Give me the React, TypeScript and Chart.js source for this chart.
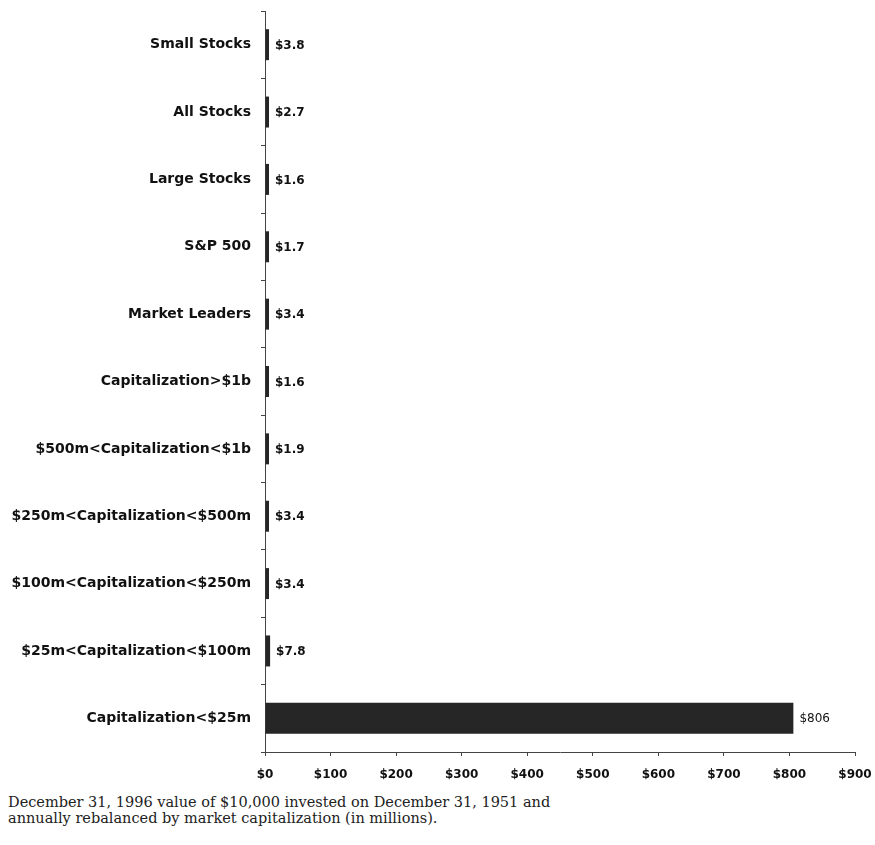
import { useEffect, useRef } from 'react';
import { Chart, registerables } from 'chart.js';

Chart.register(...registerables);

const categories = [
  'Small Stocks',
  'All Stocks',
  'Large Stocks',
  'S&P 500',
  'Market Leaders',
  'Capitalization>$1b',
  '$500m<Capitalization<$1b',
  '$250m<Capitalization<$500m',
  '$100m<Capitalization<$250m',
  '$25m<Capitalization<$100m',
  'Capitalization<$25m',
];
const values = [3.8, 2.7, 1.6, 1.7, 3.4, 1.6, 1.9, 3.4, 3.4, 7.8, 806];
const valueLabels = ['$3.8', '$2.7', '$1.6', '$1.7', '$3.4', '$1.6', '$1.9', '$3.4', '$3.4', '$7.8', '$806'];
const xMax = 900;
const xStep = 100;

const FONT = '"DejaVu Sans", Verdana, sans-serif';

// draws the value next to every bar
const barLabels = {
  id: 'barLabels',
  afterDatasetsDraw(chart: Chart) {
    const ctx = chart.ctx;
    const meta = chart.getDatasetMeta(0);
    ctx.save();
    ctx.fillStyle = '#111';
    ctx.textBaseline = 'middle';
    ctx.textAlign = 'left';
    meta.data.forEach((bar: any, i: number) => {
      ctx.font = (values[i] > 100 ? 'normal 12px ' : 'bold 12px ') + FONT;
      ctx.fillText(valueLabels[i], bar.x + 6, bar.y + 1);
    });
    ctx.restore();
  },
};

export default function App() {
  const chartRef = useRef<HTMLCanvasElement>(null);
  const chartInstance = useRef<Chart | null>(null);

  useEffect(() => {
    if (!chartRef.current) return;
    if (chartInstance.current) chartInstance.current.destroy();
    const ctx = chartRef.current.getContext('2d');
    if (!ctx) return;

    chartInstance.current = new Chart(ctx, {
      type: 'bar',
      data: {
        labels: categories,
        datasets: [
          {
            data: values,
            backgroundColor: '#262626',
            borderWidth: 0,
            barPercentage: 0.46,
            categoryPercentage: 1,
            minBarLength: 4,
          },
        ],
      },
      options: {
        indexAxis: 'y',
        responsive: false,
        maintainAspectRatio: false,
        animation: false,
        layout: { padding: { top: 11, right: 20, left: 0, bottom: 0 } },
        plugins: {
          legend: { display: false },
          tooltip: { enabled: false },
        },
        scales: {
          x: {
            min: 0,
            max: xMax,
            ticks: {
              stepSize: xStep,
              color: '#111',
              font: { family: FONT, size: 12, weight: 'bold' },
              padding: 12,
              callback: (v: any) => '$' + v,
            },
            grid: {
              drawOnChartArea: false,
              color: '#444',
              tickLength: 4,
            },
            border: { color: '#444', width: 1 },
            afterFit: (scale: any) => {
              scale.height = 38;
              scale.paddingLeft = 0;
              scale.paddingRight = 0;
            },
          },
          y: {
            ticks: {
              color: '#111',
              font: { family: FONT, size: 14, weight: 'bold' },
              padding: 10,
            },
            grid: {
              drawOnChartArea: false,
              color: '#444',
              tickLength: 4,
              offset: true,
            },
            border: { color: '#444', width: 1 },
            afterFit: (scale: any) => {
              scale.width = 265;
              scale.paddingTop = 0;
              scale.paddingBottom = 0;
            },
          },
        },
      },
      plugins: [barLabels],
    });

    return () => {
      if (chartInstance.current) {
        chartInstance.current.destroy();
        chartInstance.current = null;
      }
    };
  }, []);

  return (
    <div
      style={{
        position: 'absolute',
        left: 0,
        top: 0,
        width: 875,
        height: 845,
        background: '#fff',
      }}
    >
      <canvas ref={chartRef} width={875} height={790} style={{ display: 'block' }} />
      <div
        style={{
          position: 'absolute',
          left: 8,
          top: 794,
          fontFamily: '"DejaVu Serif", Georgia, serif',
          fontSize: 14.5,
          lineHeight: '16px',
          color: '#222',
        }}
      >
        December 31, 1996 value of $10,000 invested on December 31, 1951 and
        <br />
        annually rebalanced by market capitalization (in millions).
      </div>
    </div>
  );
}
